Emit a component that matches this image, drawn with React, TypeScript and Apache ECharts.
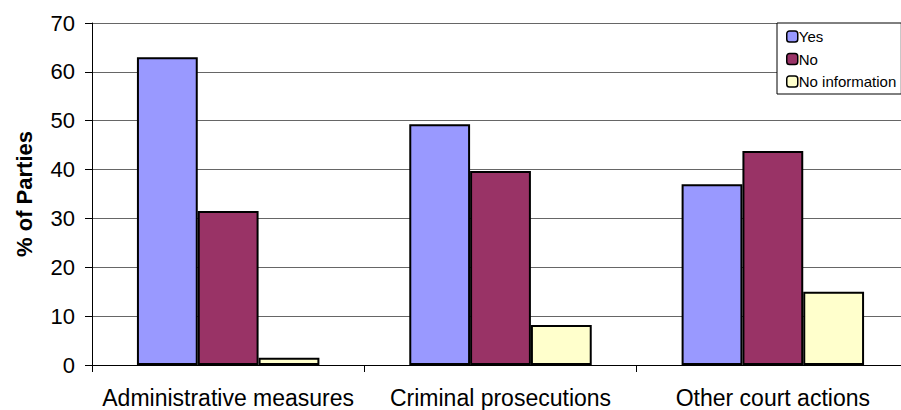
import React, { useEffect, useRef } from "react";
import * as echarts from "echarts";

const categories = ["Administrative measures", "Criminal prosecutions", "Other court actions"];
const yesValues = [63, 49.3, 37];
const noValues = [31.5, 39.7, 43.8];
const noInfoValues = [1.5, 8.2, 15];
const seriesNames = ["Yes", "No", "No information"];

export default function App() {
  const ref = useRef<HTMLDivElement>(null);
  useEffect(() => {
    const chart = echarts.init(ref.current!, null, { renderer: "svg" });
    const font = "'Liberation Sans', Arial, sans-serif";
    const barStyle = (color: string) => ({ color, borderColor: "#000", borderWidth: 2 });
    chart.setOption({
      animation: false,
      backgroundColor: "#fff",
      textStyle: { fontFamily: font },
      grid: { left: 92, top: 23, right: 31, bottom: 45, containLabel: false },
      legend: {
        orient: "vertical",
        left: 777,
        top: 23,
        padding: [6, 5, 5, 9],
        itemWidth: 11,
        itemHeight: 11,
        itemGap: 7.5,
        backgroundColor: "#fff",
        borderColor: "#000",
        borderWidth: 1,
        textStyle: { fontSize: 15, color: "#000", fontFamily: font, padding: [0, 0, 0, -4], width: 125 },
        data: seriesNames.map((n) => ({ name: n, itemStyle: { borderColor: "#000", borderWidth: 1.5 } })),
      },
      xAxis: {
        type: "category",
        data: categories,
        axisLine: { lineStyle: { color: "#000", width: 1 } },
        axisTick: { show: true, length: 7, lineStyle: { color: "#000" } },
        axisLabel: { fontSize: 23, color: "#000", margin: 21, fontFamily: font, interval: 0 },
      },
      yAxis: {
        type: "value",
        min: 0,
        max: 70,
        interval: 10,
        name: "% of Parties",
        nameLocation: "middle",
        nameGap: 57,
        nameTextStyle: { fontSize: 22, fontWeight: "bold", color: "#000", fontFamily: font },
        axisLine: { show: true, lineStyle: { color: "#000", width: 1 } },
        axisTick: { show: true, length: 7, lineStyle: { color: "#000" } },
        axisLabel: { fontSize: 22, color: "#000", margin: 17, fontFamily: font },
        splitLine: { show: true, lineStyle: { color: "#666", width: 1 } },
      },
      series: [
        { name: seriesNames[0], type: "bar", data: yesValues, barGap: "0%", barCategoryGap: "33%", itemStyle: barStyle("#9999ff") },
        { name: seriesNames[1], type: "bar", data: noValues, barGap: "0%", barCategoryGap: "33%", itemStyle: barStyle("#993366") },
        { name: seriesNames[2], type: "bar", data: noInfoValues, barGap: "0%", barCategoryGap: "33%", itemStyle: barStyle("#ffffcc") },
      ],
    });
    return () => chart.dispose();
  }, []);
  return (
    <div style={{ position: "fixed", left: 0, top: 0, width: 901, height: 410, overflow: "hidden", background: "#fff" }}>
      <div ref={ref} style={{ width: 940, height: 410 }} />
    </div>
  );
}
